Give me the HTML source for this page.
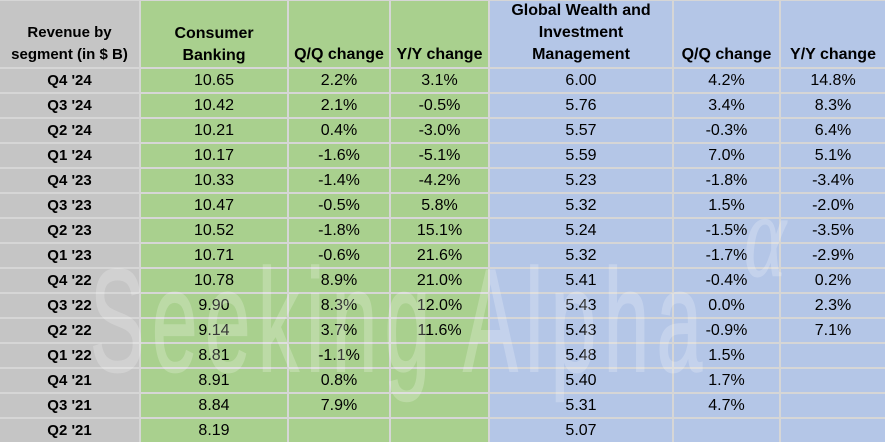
<!DOCTYPE html>
<html><head><meta charset="utf-8">
<style>
*{margin:0;padding:0;box-sizing:border-box}
html,body{width:885px;height:442px;overflow:hidden;background:#d6d6d6}
body{position:relative;font-family:"Liberation Sans",Arial,sans-serif;color:#000}
.cell{position:absolute;text-align:center;white-space:nowrap}
.g{background:#c5c5c5}.gr{background:#a9d08e}.b{background:#b4c6e7}
.c0{left:0;width:139px}.c1{left:141px;width:146px}.c2{left:289px;width:100px}.c3{left:391px;width:97px}
.c4{left:490px;width:182px}.c5{left:674px;width:105px}.c6{left:781px;width:104px}
.hd{top:1px;height:66px}
.ht{position:absolute;left:0;right:0;font-weight:bold;font-size:16px;line-height:22px;text-align:center}
.r{position:absolute;left:0;width:885px;height:23px}
.r .cell{top:0;height:23px;line-height:23px;font-size:16px}
.r .c0{font-weight:bold;font-size:15px}
svg{position:absolute;left:0;top:0}
</style></head><body>
<div class="cell g c0 hd"><div class="ht" style="top:21px;font-size:15px">Revenue by<br>segment (in $ B)</div></div>
<div class="cell gr c1 hd"><div class="ht" style="top:21.5px">Consumer<br>Banking</div></div>
<div class="cell gr c2 hd"><div class="ht" style="top:43px">Q/Q change</div></div>
<div class="cell gr c3 hd"><div class="ht" style="top:43px">Y/Y change</div></div>
<div class="cell b c4 hd"><div class="ht" style="top:-1.5px">Global Wealth and<br>Investment<br>Management</div></div>
<div class="cell b c5 hd"><div class="ht" style="top:43px">Q/Q change</div></div>
<div class="cell b c6 hd"><div class="ht" style="top:43px">Y/Y change</div></div>

<div class="r" style="top:69px"><div class="cell g c0">Q4 '24</div><div class="cell gr c1">10.65</div><div class="cell gr c2">2.2%</div><div class="cell gr c3">3.1%</div><div class="cell b c4">6.00</div><div class="cell b c5">4.2%</div><div class="cell b c6">14.8%</div></div>
<div class="r" style="top:94px"><div class="cell g c0">Q3 '24</div><div class="cell gr c1">10.42</div><div class="cell gr c2">2.1%</div><div class="cell gr c3">-0.5%</div><div class="cell b c4">5.76</div><div class="cell b c5">3.4%</div><div class="cell b c6">8.3%</div></div>
<div class="r" style="top:119px"><div class="cell g c0">Q2 '24</div><div class="cell gr c1">10.21</div><div class="cell gr c2">0.4%</div><div class="cell gr c3">-3.0%</div><div class="cell b c4">5.57</div><div class="cell b c5">-0.3%</div><div class="cell b c6">6.4%</div></div>
<div class="r" style="top:144px"><div class="cell g c0">Q1 '24</div><div class="cell gr c1">10.17</div><div class="cell gr c2">-1.6%</div><div class="cell gr c3">-5.1%</div><div class="cell b c4">5.59</div><div class="cell b c5">7.0%</div><div class="cell b c6">5.1%</div></div>
<div class="r" style="top:169px"><div class="cell g c0">Q4 '23</div><div class="cell gr c1">10.33</div><div class="cell gr c2">-1.4%</div><div class="cell gr c3">-4.2%</div><div class="cell b c4">5.23</div><div class="cell b c5">-1.8%</div><div class="cell b c6">-3.4%</div></div>
<div class="r" style="top:194px"><div class="cell g c0">Q3 '23</div><div class="cell gr c1">10.47</div><div class="cell gr c2">-0.5%</div><div class="cell gr c3">5.8%</div><div class="cell b c4">5.32</div><div class="cell b c5">1.5%</div><div class="cell b c6">-2.0%</div></div>
<div class="r" style="top:219px"><div class="cell g c0">Q2 '23</div><div class="cell gr c1">10.52</div><div class="cell gr c2">-1.8%</div><div class="cell gr c3">15.1%</div><div class="cell b c4">5.24</div><div class="cell b c5">-1.5%</div><div class="cell b c6">-3.5%</div></div>
<div class="r" style="top:244px"><div class="cell g c0">Q1 '23</div><div class="cell gr c1">10.71</div><div class="cell gr c2">-0.6%</div><div class="cell gr c3">21.6%</div><div class="cell b c4">5.32</div><div class="cell b c5">-1.7%</div><div class="cell b c6">-2.9%</div></div>
<div class="r" style="top:269px"><div class="cell g c0">Q4 '22</div><div class="cell gr c1">10.78</div><div class="cell gr c2">8.9%</div><div class="cell gr c3">21.0%</div><div class="cell b c4">5.41</div><div class="cell b c5">-0.4%</div><div class="cell b c6">0.2%</div></div>
<div class="r" style="top:294px"><div class="cell g c0">Q3 '22</div><div class="cell gr c1">9.90</div><div class="cell gr c2">8.3%</div><div class="cell gr c3">12.0%</div><div class="cell b c4">5.43</div><div class="cell b c5">0.0%</div><div class="cell b c6">2.3%</div></div>
<div class="r" style="top:319px"><div class="cell g c0">Q2 '22</div><div class="cell gr c1">9.14</div><div class="cell gr c2">3.7%</div><div class="cell gr c3">11.6%</div><div class="cell b c4">5.43</div><div class="cell b c5">-0.9%</div><div class="cell b c6">7.1%</div></div>
<div class="r" style="top:344px"><div class="cell g c0">Q1 '22</div><div class="cell gr c1">8.81</div><div class="cell gr c2">-1.1%</div><div class="cell gr c3"></div><div class="cell b c4">5.48</div><div class="cell b c5">1.5%</div><div class="cell b c6"></div></div>
<div class="r" style="top:369px"><div class="cell g c0">Q4 '21</div><div class="cell gr c1">8.91</div><div class="cell gr c2">0.8%</div><div class="cell gr c3"></div><div class="cell b c4">5.40</div><div class="cell b c5">1.7%</div><div class="cell b c6"></div></div>
<div class="r" style="top:394px"><div class="cell g c0">Q3 '21</div><div class="cell gr c1">8.84</div><div class="cell gr c2">7.9%</div><div class="cell gr c3"></div><div class="cell b c4">5.31</div><div class="cell b c5">4.7%</div><div class="cell b c6"></div></div>
<div class="r" style="top:419px"><div class="cell g c0">Q2 '21</div><div class="cell gr c1">8.19</div><div class="cell gr c2"></div><div class="cell gr c3"></div><div class="cell b c4">5.07</div><div class="cell b c5"></div><div class="cell b c6"></div></div>

<svg width="885" height="442" viewBox="0 0 885 442">
  <g opacity="0.22" fill="#ffffff" stroke="#ffffff">
    <text transform="translate(90,371) scale(0.56,1)" x="0" y="0" font-family="Liberation Sans, Arial, sans-serif" font-size="146" stroke-width="2" textLength="1093" lengthAdjust="spacing">Seeking Alpha</text>
    <text x="744" y="276" font-family="Liberation Serif, serif" font-style="italic" font-size="120" stroke-width="1" textLength="42" lengthAdjust="spacingAndGlyphs">α</text>
  </g>
</svg>
</body></html>
